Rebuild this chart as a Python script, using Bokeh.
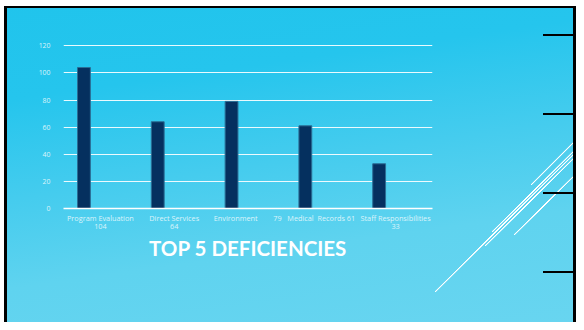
from bokeh.plotting import figure
from bokeh.models import FactorRange, Range1d, FixedTicker, ColumnDataSource
from bokeh.transform import dodge
from bokeh.embed import file_html
from bokeh.resources import INLINE

NB = "\u00a0"

# ---- data ----
categories = ["Program Evaluation\n104", "Direct Services\n64",
              "Environment" + NB * 13,
              "79" + NB * 3 + "Medical" + NB * 2 + "Records 61" + NB * 8,
              "Staff Responsibilities\n33"]
values = [104, 64, 79, 61, 33]
y_ticks = [0, 20, 40, 60, 80, 100, 120]
title_text = "TOP 5 DEFICIENCIES"

# ---- styles ----
W, H = 576, 322
label_color = "#dcf4fb"


def solid(x, y, w, h, c="#000"):
    return f"linear-gradient({c},{c}) {x}px {y}px / {w}px {h}px no-repeat"


def diag(x0, y0, x1, y1):
    # white 1px line from bottom-left (x0,y0) to top-right (x1,y1)
    g = ("linear-gradient(to bottom right, transparent calc(50% - 0.8px), "
         "#fff calc(50% - 0.4px), #fff calc(50% + 0.4px), "
         "transparent calc(50% + 0.8px))")
    return f"{g} {x0}px {y1}px / {x1 - x0}px {y0 - y1}px no-repeat"


layers = [solid(0, 0, 4, H, "#fff"), solid(0, 0, W, 6, "#fff"),
          solid(4, 6, 3, H), solid(W - 3, 6, 3, H), solid(4, 6, W, 2)]
layers += [solid(543, yy - 1, 31, 2) for yy in (35, 114, 193, 272)]
layers += [diag(531, 185, 574, 142), diag(492, 232, 574, 151),
           diag(435, 292, 574, 154), diag(485, 246, 574, 158),
           diag(514, 235, 574, 176)]
layers.append("linear-gradient(172deg, #20c4ec 0%, #25c5ed 25%, #45ccee 50%, "
              "#5fd3ef 72%, #68d5f0 100%)")

src = ColumnDataSource(dict(cat=categories, val=values))

p = figure(x_range=FactorRange(*categories), y_range=Range1d(0, 121),
           width=W, height=H, output_backend="svg", toolbar_location=None,
           min_border_left=63, min_border_right=144, min_border_top=44,
           min_border_bottom=114, background_fill_alpha=0, border_fill_alpha=0,
           outline_line_color=None, styles={"background": ", ".join(layers)})

p.vbar(x=dodge("cat", -0.223, range=p.x_range), top="val", width=0.174,
       source=src, fill_color="#05305f", line_color="#2b6e95", line_width=1)

p.xgrid.grid_line_color = None
p.ygrid.ticker = FixedTicker(ticks=y_ticks)
p.ygrid.grid_line_color = "white"
p.ygrid.grid_line_alpha = 0.9
p.ygrid.grid_line_width = 1.2

p.yaxis.ticker = FixedTicker(ticks=y_ticks)
p.yaxis.axis_line_color = None
p.yaxis.major_tick_line_color = None
p.yaxis.minor_tick_line_color = None
p.yaxis.major_label_standoff = 7
p.yaxis.major_label_text_font = "Open Sans"
p.yaxis.major_label_text_font_size = "6.9px"
p.yaxis.major_label_text_color = label_color

p.xaxis.axis_line_color = "white"
p.xaxis.axis_line_width = 1.5
p.xaxis.major_tick_line_color = None
p.xaxis.major_label_standoff = -2
p.xaxis.major_label_text_font = "Open Sans"
p.xaxis.major_label_text_font_size = "7.3px"
p.xaxis.major_label_text_color = label_color
p.xaxis.major_label_text_line_height = 0.85

p.xaxis.axis_label = title_text
p.xaxis.axis_label_standoff = 2
p.xaxis.axis_label_text_font = "Lato"
p.xaxis.axis_label_text_font_size = "20.5px"
p.xaxis.axis_label_text_font_style = "bold"
p.xaxis.axis_label_text_color = "white"

open("out.html", "w").write(file_html(p, INLINE))
